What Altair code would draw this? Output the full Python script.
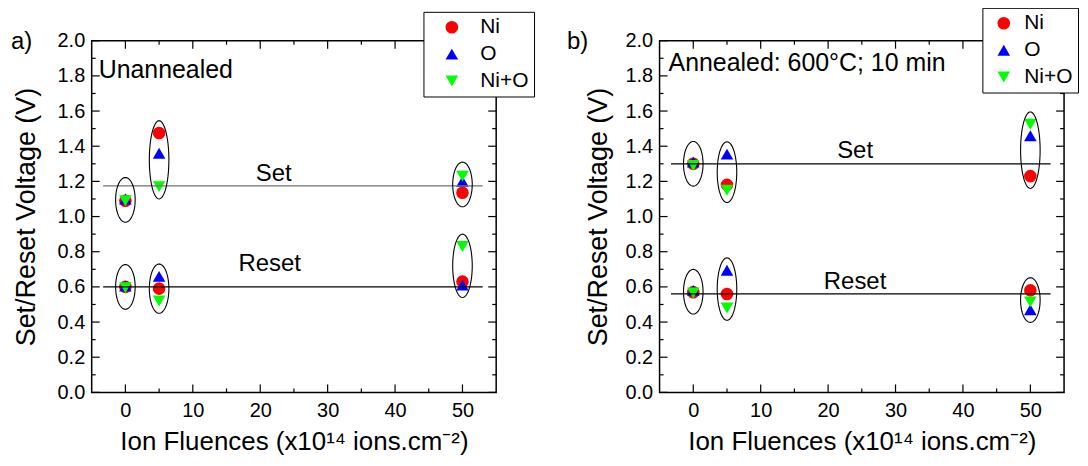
import altair as alt
import pandas as pd
import numpy as np

FONT = "Liberation Sans"

# ---------------- data ----------------
fluences = [0, 5, 50]
series_names = ["Ni", "O", "Ni+O"]
series_colors = ["#FF0000", "#0000FF", "#00FF00"]
series_shapes = ["circle", "triangle-up", "triangle-down"]

# a) unannealed
a_set_ni = [1.09, 1.475, 1.135]
a_set_o = [1.10, 1.36, 1.20]
a_set_nio = [1.09, 1.17, 1.23]
a_reset_ni = [0.60, 0.59, 0.63]
a_reset_o = [0.605, 0.66, 0.61]
a_reset_nio = [0.595, 0.52, 0.83]
a_set_line = 1.175
a_reset_line = 0.60

# b) annealed 600 C, 10 min
b_set_ni = [1.30, 1.18, 1.23]
b_set_o = [1.31, 1.355, 1.46]
b_set_nio = [1.29, 1.15, 1.525]
b_reset_ni = [0.57, 0.56, 0.58]
b_reset_o = [0.58, 0.695, 0.47]
b_reset_nio = [0.565, 0.48, 0.515]
b_set_line = 1.30
b_reset_line = 0.56

y_major = [0.0, 0.2, 0.4, 0.6, 0.8, 1.0, 1.2, 1.4, 1.6, 1.8, 2.0]
y_minor = [0.1, 0.3, 0.5, 0.7, 0.9, 1.1, 1.3, 1.5, 1.7, 1.9]
x_major = [0, 10, 20, 30, 40, 50]
x_minor = [5, 15, 25, 35, 45]

W, H = 406, 353
xs = alt.Scale(domain=[-5, 55], nice=False, zero=False)
ys = alt.Scale(domain=[0, 2], nice=False, zero=False)


def panel(set_vals, reset_vals, set_line, reset_line, set_line_color, note, note_xy,
          tag, tag_xy, set_pos, reset_pos, legend_opts, ytitle_pad):
    xaxis = alt.Axis(values=x_major, format="d",
                     title="Ion Fluences (x10¹⁴ ions.cm⁻²)",
                     titleFont=FONT, titleFontSize=26, titleFontWeight="normal",
                     titleColor="black", labelFont=FONT, labelFontSize=20,
                     labelColor="black", labelPadding=8, titlePadding=8,
                     ticks=False, domain=False, grid=False, labelFlush=False,
                     labelOverlap=False)
    yaxis = alt.Axis(values=y_major, format=".1f", title="Set/Reset Voltage (V)",
                     titleFont=FONT, titleFontSize=27, titleFontWeight="normal",
                     titleColor="black", labelFont=FONT, labelFontSize=20,
                     labelColor="black", labelPadding=7, titlePadding=ytitle_pad,
                     ticks=False, domain=False, grid=False, labelFlush=False,
                     labelOverlap=False)

    def XF(f):
        return alt.X(f, type="quantitative", scale=xs, axis=xaxis)

    def YF(f):
        return alt.Y(f, type="quantitative", scale=ys, axis=yaxis)

    def XD(v):
        return alt.XDatum(v, type="quantitative", scale=xs, axis=xaxis)

    def YD(v):
        return alt.YDatum(v, type="quantitative", scale=ys, axis=yaxis)

    rows = []
    for name, sv, rv in zip(series_names, set_vals, reset_vals):
        for f, s, r in zip(fluences, sv, rv):
            rows.append(dict(fluence=f, v=s, series=name, kind="set"))
            rows.append(dict(fluence=f, v=r, series=name, kind="reset"))
    df = pd.DataFrame(rows)

    # ellipses around each cluster
    t = np.linspace(0, 2 * np.pi, 73)
    erows = []
    for (f, kind), g in df.groupby(["fluence", "kind"]):
        lo, hi = g.v.min(), g.v.max()
        cy = (lo + hi) / 2
        ry = max((hi - lo) / 2 + 0.07, 0.127)
        for i, ti in enumerate(t):
            erows.append(dict(cid=f"{f}-{kind}", i=i, ex=f + 1.45 * np.cos(ti),
                              ey=cy + ry * np.sin(ti)))
    edf = pd.DataFrame(erows)

    leg = alt.Legend(title=None, orient="none", direction="vertical",
                     strokeColor="black", fillColor="white",
                     padding=5, labelFont=FONT, labelFontSize=21, labelColor="black",
                     symbolSize=160, symbolStrokeWidth=0, rowPadding=5,
                     cornerRadius=0, **legend_opts)

    points = alt.Chart(df).mark_point(filled=True, size=160, opacity=1).encode(
        x=XF("fluence"),
        y=YF("v"),
        color=alt.Color("series:N", scale=alt.Scale(domain=series_names, range=series_colors),
                        legend=leg),
        shape=alt.Shape("series:N", scale=alt.Scale(domain=series_names, range=series_shapes),
                        legend=leg),
    )

    ell = alt.Chart(edf).mark_line(color="black", strokeWidth=1.1).encode(
        x=XF("ex"), y=YF("ey"), detail="cid:N", order="i:Q")

    one = pd.DataFrame({"k": [0]})
    set_rule = alt.Chart(one).mark_rule(color=set_line_color, strokeWidth=1.3).encode(
        x=XD(-3.3), x2=alt.X2Datum(53), y=YD(set_line))
    reset_rule = alt.Chart(one).mark_rule(color="black", strokeWidth=1.3).encode(
        x=XD(-3.3), x2=alt.X2Datum(53), y=YD(reset_line))

    txt = dict(font=FONT, fontSize=24, color="black", baseline="middle")
    set_txt = alt.Chart(one).mark_text(align="center", **txt).encode(
        x=XD(set_pos[0]), y=YD(set_pos[1]), text=alt.value("Set"))
    reset_txt = alt.Chart(one).mark_text(align="center", **txt).encode(
        x=XD(reset_pos[0]), y=YD(reset_pos[1]), text=alt.value("Reset"))
    note_txt = alt.Chart(one).mark_text(align="left", font=FONT, fontSize=25, color="black",
                                        baseline="middle").encode(
        x=alt.value(note_xy[0]), y=alt.value(note_xy[1]), text=alt.value(note))
    tag_txt = alt.Chart(one).mark_text(align="left", **txt).encode(
        x=alt.value(tag_xy[0]), y=alt.value(tag_xy[1]), text=alt.value(tag))

    # inward ticks on all four sides
    ymaj = pd.DataFrame({"v": y_major})
    ymin = pd.DataFrame({"v": y_minor})
    xmaj = pd.DataFrame({"v": x_major})
    xmin = pd.DataFrame({"v": x_minor})
    tk = dict(color="black", strokeWidth=1.2)
    ticks = []
    for d, ln in [(ymaj, 8), (ymin, 4)]:
        ticks.append(alt.Chart(d).mark_rule(**tk).encode(
            y=YF("v"), x=alt.value(0), x2=alt.value(ln)))
        ticks.append(alt.Chart(d).mark_rule(**tk).encode(
            y=YF("v"), x=alt.value(W), x2=alt.value(W - ln)))
    for d, ln in [(xmaj, 8), (xmin, 4)]:
        ticks.append(alt.Chart(d).mark_rule(**tk).encode(
            x=XF("v"), y=alt.value(H), y2=alt.value(H - ln)))
        ticks.append(alt.Chart(d).mark_rule(**tk).encode(
            x=XF("v"), y=alt.value(0), y2=alt.value(ln)))

    return alt.layer(points, *ticks, set_rule, reset_rule, ell, set_txt, reset_txt,
                     note_txt, tag_txt).properties(width=W, height=H)


left = panel([a_set_ni, a_set_o, a_set_nio], [a_reset_ni, a_reset_o, a_reset_nio],
             a_set_line, a_reset_line, "#707070", "Unannealed", (7, 29),
             "a)", (-81, 1), (22, 1.24), (21.4, 0.73),
             dict(legendX=333, legendY=-29, symbolOffset=13, labelOffset=18), 17)
right = panel([b_set_ni, b_set_o, b_set_nio], [b_reset_ni, b_reset_o, b_reset_nio],
              b_set_line, b_reset_line, "black", "Annealed: 600°C; 10 min", (9, 22),
              "b)", (-93, 1), (24, 1.375), (24, 0.625),
              dict(legendX=324, legendY=-33, symbolOffset=6, labelOffset=10), 12)

chart = alt.hconcat(left, right, spacing=164, bounds="flush").resolve_scale(
    color="independent", shape="independent"
).configure_view(
    stroke="black", strokeWidth=1.5
).properties(padding={"left": 2, "top": -3, "right": 0, "bottom": 0})

chart.save("out.html", embed_options={"renderer": "svg", "actions": False})
